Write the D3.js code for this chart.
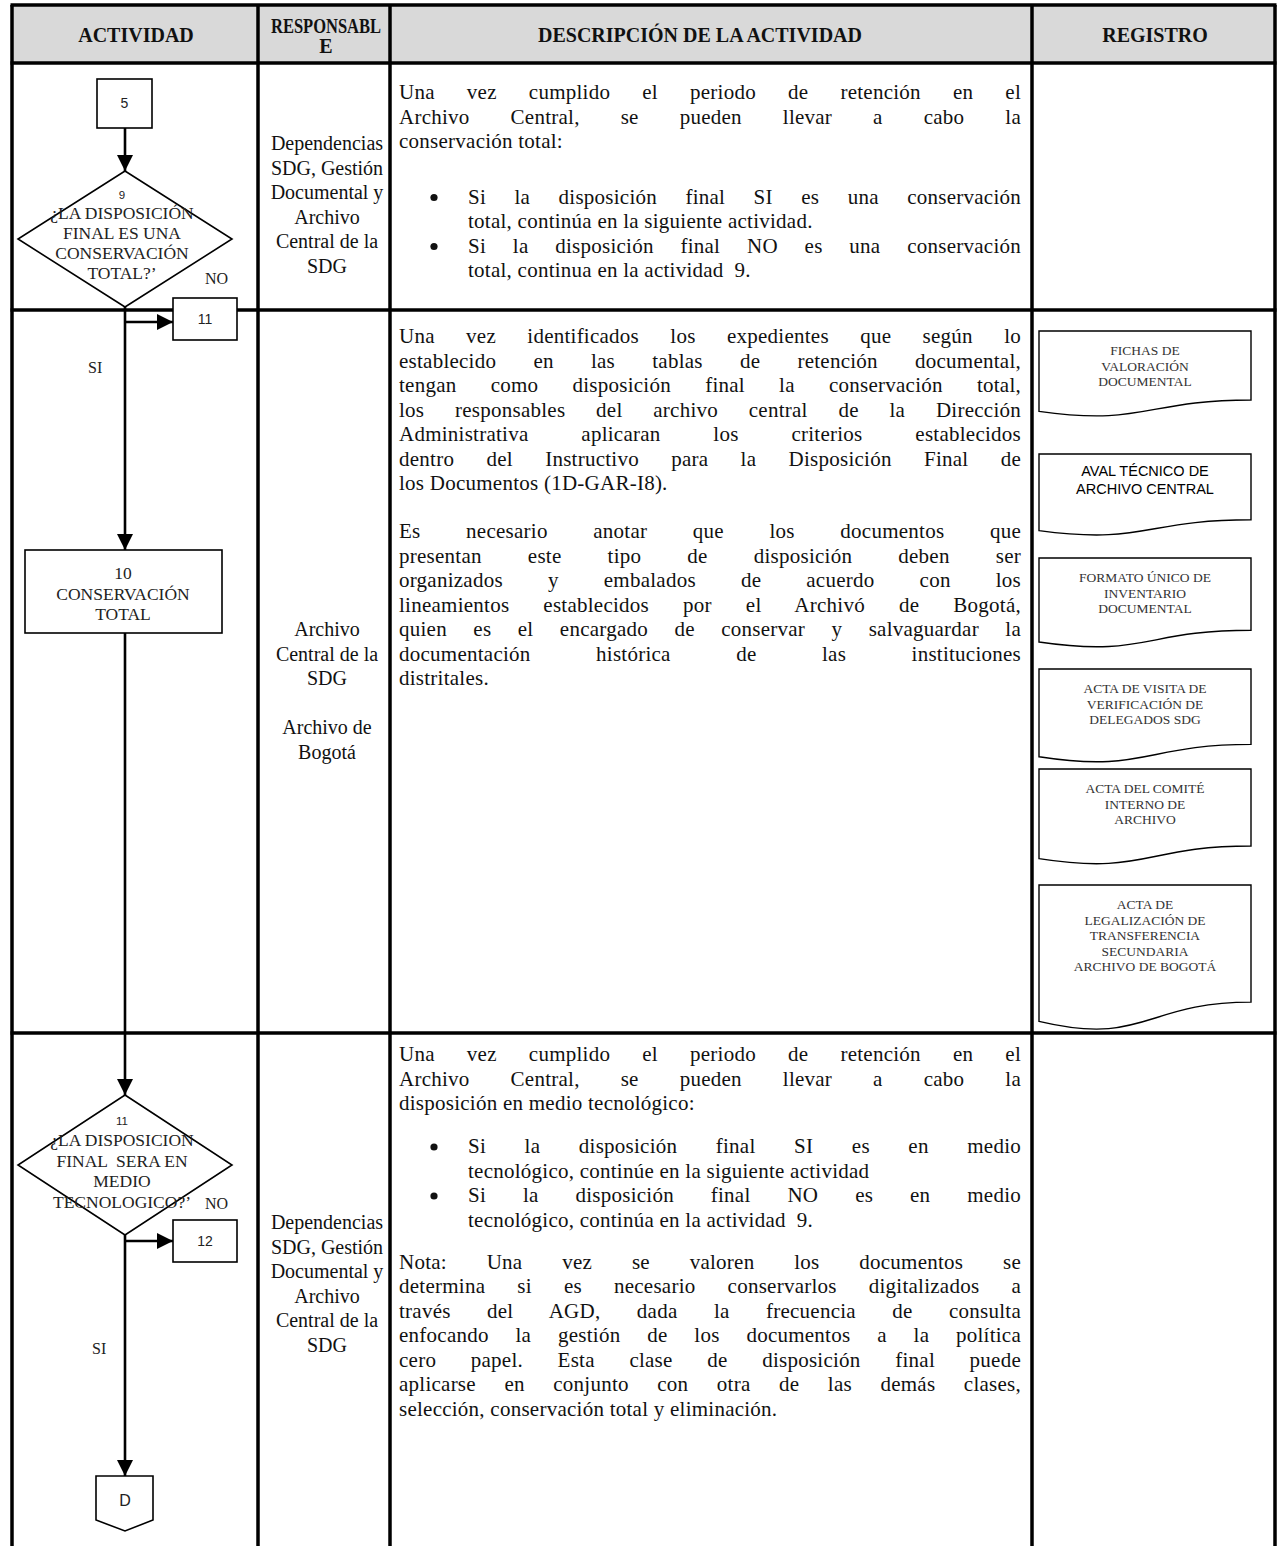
<!DOCTYPE html>
<html><head><meta charset="utf-8">
<script src="https://cdn.jsdelivr.net/npm/d3@7"></script>
<style>html,body{margin:0;padding:0;background:#fff}svg{display:block}</style>
</head><body>
<script>
// ---------- DATA ----------
const columns = ["ACTIVIDAD", "RESPONSABLE", "DESCRIPCIÓN DE LA ACTIVIDAD", "REGISTRO"];
const headerLabels = [["ACTIVIDAD"], ["RESPONSABL", "E"], ["DESCRIPCIÓN DE LA ACTIVIDAD"], ["REGISTRO"]];

const responsables = [
  ["Dependencias", "SDG, Gestión", "Documental y", "Archivo", "Central de la", "SDG"],
  ["Archivo", "Central de la", "SDG", "", "Archivo de", "Bogotá"],
  ["Dependencias", "SDG, Gestión", "Documental y", "Archivo", "Central de la", "SDG"]
];

const descRow1 = [
  {type: "p", lines: ["Una vez cumplido el periodo de retención en el", "Archivo Central, se pueden llevar a cabo la", "conservación total:"]},
  {type: "b", lines: ["Si la disposición final SI es una conservación", "total, continúa en la siguiente actividad."]},
  {type: "b", lines: ["Si la disposición final NO es una conservación", "total, continua en la actividad  9."]}
];
const descRow2 = [
  {type: "p", lines: ["Una vez identificados los expedientes que según lo", "establecido en las tablas de retención documental,", "tengan como disposición final la conservación total,", "los responsables del archivo central de la Dirección", "Administrativa aplicaran los criterios establecidos", "dentro del Instructivo para la Disposición Final de", "los Documentos (1D-GAR-I8)."]},
  {type: "p", lines: ["Es necesario anotar que los documentos que", "presentan este tipo de disposición deben ser", "organizados y embalados de acuerdo con los", "lineamientos establecidos por el Archivó de Bogotá,", "quien es el encargado de conservar y salvaguardar la", "documentación histórica de las instituciones", "distritales."]}
];
const descRow3 = [
  {type: "p", lines: ["Una vez cumplido el periodo de retención en el", "Archivo Central, se pueden llevar a cabo la", "disposición en medio tecnológico:"]},
  {type: "b", lines: ["Si la disposición final SI es en medio", "tecnológico, continúe en la siguiente actividad"]},
  {type: "b", lines: ["Si la disposición final NO es en medio", "tecnológico, continúa en la actividad  9."]},
  {type: "p", lines: ["Nota: Una vez se valoren los documentos se", "determina si es necesario conservarlos digitalizados a", "través del AGD, dada la frecuencia de consulta", "enfocando la gestión de los documentos a la política", "cero papel. Esta clase de disposición final puede", "aplicarse en conjunto con otra de las demás clases,", "selección, conservación total y eliminación."]}
];

const registros = [
  ["FICHAS DE", "VALORACIÓN", "DOCUMENTAL"],
  ["AVAL TÉCNICO DE", "ARCHIVO CENTRAL"],
  ["FORMATO ÚNICO DE", "INVENTARIO", "DOCUMENTAL"],
  ["ACTA DE VISITA DE", "VERIFICACIÓN DE", "DELEGADOS SDG"],
  ["ACTA DEL COMITÉ", "INTERNO DE", "ARCHIVO"],
  ["ACTA DE", "LEGALIZACIÓN DE", "TRANSFERENCIA", "SECUNDARIA", "ARCHIVO DE BOGOTÁ"]
];

const connectorLabels = ["5", "11", "12", "D"];
const decisionLabels = [
  {num: "9", lines: ["¿LA DISPOSICIÓN", "FINAL ES UNA", "CONSERVACIÓN", "TOTAL?’"]},
  {num: "11", lines: ["¿LA DISPOSICION", "FINAL  SERA EN", "MEDIO", "TECNOLOGICO?’"]}
];
const processLabels = [["10", "CONSERVACIÓN", "TOTAL"]];
const branchLabels = ["SI", "NO"];

// ---------- LAYOUT ----------
const W = 1280, H = 1546;
const serif = "'Liberation Serif', 'Times New Roman', serif";
const sans = "'Liberation Sans', Arial, sans-serif";
const colX = d3.scaleOrdinal().domain(columns).range([12, 258, 390, 1032]);
const tableRight = 1275;
const rowY = [5, 63, 310, 1033, H + 10];

const svg = d3.select("body").append("svg").attr("width", W).attr("height", H)
  .attr("font-family", serif);

const defs = svg.append("defs");
defs.append("marker").attr("id", "arr").attr("viewBox", "0 0 10 10")
  .attr("refX", 10).attr("refY", 5).attr("markerUnits", "userSpaceOnUse")
  .attr("markerWidth", 16).attr("markerHeight", 16).attr("orient", "auto")
  .append("path").attr("d", "M0,0 L10,5 L0,10 Z").attr("fill", "#000");

// header background
svg.append("rect").attr("x", 12).attr("y", rowY[0]).attr("width", tableRight - 12)
  .attr("height", rowY[1] - rowY[0]).attr("fill", "#d9d9d9");

// header labels
const colCenters = columns.map((c, i) => {
  const x0 = colX(c), x1 = i < columns.length - 1 ? colX(columns[i + 1]) : tableRight;
  return (x0 + x1) / 2;
});
const headerCx = [136, 326, 700, 1155];
headerLabels.forEach((lines, i) => {
  const y0 = lines.length === 1 ? 42 : 33;
  lines.forEach((l, j) => {
    const t = svg.append("text").attr("text-anchor", "middle").attr("font-weight", "bold")
      .attr("font-size", 20).attr("fill", "#111")
      .attr("x", headerCx[i]).attr("y", y0 + j * 20).text(l);
    if (l.length > 9 && i === 1) t.attr("textLength", 110).attr("lengthAdjust", "spacingAndGlyphs");
  });
});

// grid lines
const grid = svg.append("g").attr("stroke", "#000").attr("stroke-width", 3.5);
rowY.slice(0, 4).forEach(y => grid.append("line").attr("x1", 10.5).attr("x2", tableRight + 1.5).attr("y1", y).attr("y2", y));
columns.forEach(c => grid.append("line").attr("x1", colX(c)).attr("x2", colX(c)).attr("y1", rowY[0]).attr("y2", H));
grid.append("line").attr("x1", tableRight).attr("x2", tableRight).attr("y1", rowY[0]).attr("y2", H);

// responsable column
const respCx = 327;
const respStart = [150, 636, 1229];
responsables.forEach((lines, r) => {
  lines.forEach((l, j) => {
    if (!l) return;
    svg.append("text").attr("x", respCx).attr("y", respStart[r] + j * 24.5)
      .attr("text-anchor", "middle").attr("font-size", 20).attr("fill", "#111").text(l);
  });
});

// description column with justified lines
const dX0 = 399, dX1 = 1021, bulletX = 430, bTextX = 468, LH = 24.5;
function drawDesc(blocks, startY, gaps) {
  let y = startY;
  blocks.forEach((b, bi) => {
    if (bi > 0) y += gaps[bi - 1];
    const x0 = b.type === "b" ? bTextX : dX0;
    if (b.type === "b") {
      svg.append("circle").attr("cx", bulletX + 4).attr("cy", y - 6).attr("r", 3.6).attr("fill", "#111");
    }
    b.lines.forEach((l, j) => {
      const t = svg.append("text").attr("x", x0).attr("y", y).attr("font-size", 21)
        .attr("letter-spacing", 0.25).attr("fill", "#111").style("white-space", "pre").text(l);
      if (j < b.lines.length - 1) {
        const len = t.node().getComputedTextLength();
        const n = (l.match(/ /g) || []).length;
        if (n) t.attr("word-spacing", (dX1 - x0 - len) / n);
      }
      y += LH;
    });
  });
}
drawDesc(descRow1, 99, [31, 0]);
drawDesc(descRow2, 343, [23.5]);
drawDesc(descRow3, 1061, [18.5, 0, 17.5]);

// registro documents (flowchart document shape)
const docX0 = 1039, docX1 = 1251;
const docTop = [331, 454, 558, 669, 769, 885];
const docH = [86, 82, 90, 94, 96, 146];
const docFont = [serif, sans, serif, serif, serif, serif];
function docPath(x0, x1, y0, h) {
  const w = x1 - x0;
  return `M${x0},${y0} H${x1} V${y0 + 0.802 * h} C${x0 + 0.5 * w},${y0 + 0.802 * h} ${x0 + 0.5 * w},${y0 + 1.107 * h} ${x0},${y0 + 0.934 * h} Z`;
}
registros.forEach((lines, i) => {
  svg.append("path").attr("d", docPath(docX0, docX1, docTop[i], docH[i]))
    .attr("fill", "#fff").attr("stroke", "#000").attr("stroke-width", 1.4);
  const isSans = docFont[i] === sans;
  const fs = isSans ? 14.5 : 13.5, step = isSans ? 18 : 15.5;
  lines.forEach((l, j) => {
    svg.append("text").attr("x", (docX0 + docX1) / 2).attr("y", docTop[i] + (isSans ? 22 : 24) + j * step)
      .attr("text-anchor", "middle").attr("font-family", docFont[i]).attr("font-size", fs)
      .attr("fill", isSans ? "#000" : "#333").text(l);
  });
});

// ---------- FLOWCHART ----------
const fx = 125;
const fc = svg.append("g");
function arrowLine(x1, y1, x2, y2) {
  fc.append("line").attr("x1", x1).attr("y1", y1).attr("x2", x2).attr("y2", y2)
    .attr("stroke", "#000").attr("stroke-width", 2.6).attr("marker-end", "url(#arr)");
}
function box(x0, y0, x1, y1) {
  fc.append("rect").attr("x", x0).attr("y", y0).attr("width", x1 - x0).attr("height", y1 - y0)
    .attr("fill", "#fff").attr("stroke", "#000").attr("stroke-width", 1.6);
}
function diamond(cx, cy, hw, hh) {
  fc.append("path").attr("d", `M${cx},${cy - hh} L${cx + hw},${cy} L${cx},${cy + hh} L${cx - hw},${cy} Z`)
    .attr("fill", "#fff").attr("stroke", "#000").attr("stroke-width", 1.6);
}
function label(x, y, txt, fs, fam, anchor) {
  fc.append("text").attr("x", x).attr("y", y).attr("text-anchor", anchor || "middle")
    .attr("font-family", fam).attr("font-size", fs).attr("fill", "#222").style("white-space", "pre").text(txt);
}

// arrows first (under shapes)
arrowLine(fx, 128, fx, 171);
arrowLine(fx, 322, 173, 322);
arrowLine(fx, 306, fx, 550);
arrowLine(fx, 633, fx, 1095);
arrowLine(fx, 1233, fx, 1476);
arrowLine(fx, 1241, 173, 1241);

// connector 5
box(97, 79, 152, 128);
label(124.5, 108, connectorLabels[0], 14, sans);
// decision 9
diamond(fx, 239, 107, 68);
label(122, 199, decisionLabels[0].num, 11.5, sans);
decisionLabels[0].lines.forEach((l, j) => label(122, 219 + j * 20, l, 17.5, serif));
label(205, 284, branchLabels[1], 16, serif, "start");
// connector 11
box(173, 298, 237, 340);
label(205, 324, connectorLabels[1], 14, sans);
label(88, 373, branchLabels[0], 16, serif, "start");
// process 10
box(25, 550, 222, 633);
processLabels[0].forEach((l, j) => label(123, 579 + j * 20.5, l, 17.5, serif));
// decision 11
diamond(fx, 1165, 107, 70);
label(122, 1125, decisionLabels[1].num, 11.5, sans);
decisionLabels[1].lines.forEach((l, j) => label(122, 1146 + j * 20.5, l, 17.5, serif));
label(205, 1209, branchLabels[1], 16, serif, "start");
// connector 12
box(173, 1220, 237, 1262);
label(205, 1246, connectorLabels[2], 14, sans);
label(92, 1354, branchLabels[0], 16, serif, "start");
// off-page connector D
fc.append("path").attr("d", "M96,1476 H153 V1520 L125,1531 L96,1520 Z")
  .attr("fill", "#fff").attr("stroke", "#000").attr("stroke-width", 1.6);
label(125, 1506, connectorLabels[3], 16, sans);
</script>
</body></html>
